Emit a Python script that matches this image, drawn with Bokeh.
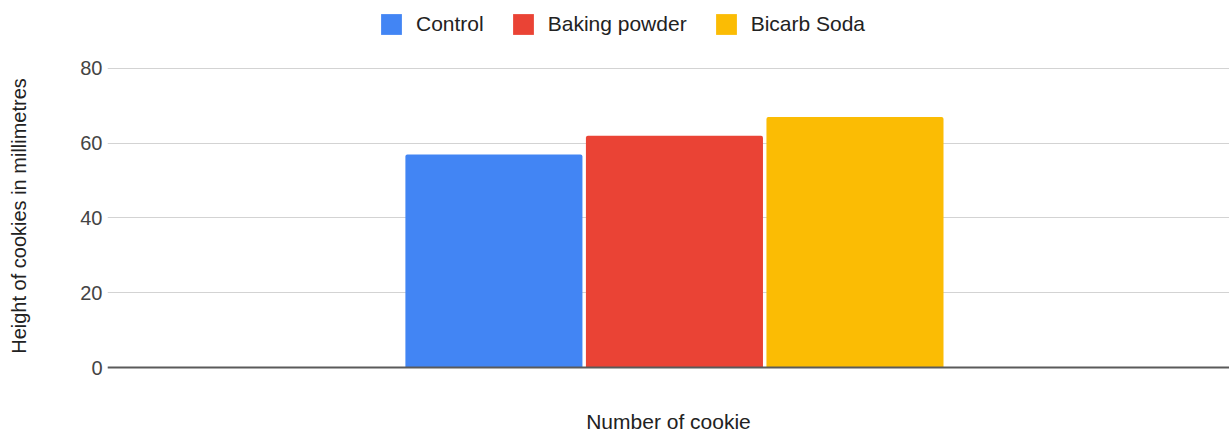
from bokeh.plotting import figure
from bokeh.models import FactorRange, Range1d, Legend, LegendItem, ColumnDataSource
from bokeh.transform import dodge
from bokeh.embed import file_html
from bokeh.resources import INLINE

# ---- data ----
categories = ["Cookie"]
series = ["Control", "Baking powder", "Bicarb Soda"]
control = [57]
baking_powder = [62]
bicarb_soda = [67]
colors = ["#4285F4", "#EA4335", "#FBBC04"]
y_ticks = [0, 20, 40, 60, 80]

source = ColumnDataSource(dict(cat=categories, control=control,
                               baking=baking_powder, bicarb=bicarb_soda))

FONT = "Liberation Sans"

# frame spans nearly the full height; headroom above 80 holds the legend,
# room below 0 holds the x-axis title (axis fixed at y = 0)
p = figure(width=1229, height=434, x_range=FactorRange(factors=categories, range_padding=0),
           y_range=Range1d(-17.12, 98.19), output_backend="svg", toolbar_location=None,
           min_border_left=107, min_border_right=0, min_border_top=0, min_border_bottom=3)
p.outline_line_color = None
p.background_fill_color = "white"
p.border_fill_color = "white"

spacing = 0.1609
shift = 0.0053
bw = 0.1578
fields = ["control", "baking", "bicarb"]
renderers = []
for i, (f, c) in enumerate(zip(fields, colors)):
    r = p.vbar(x=dodge("cat", shift + (i - 1) * spacing, range=p.x_range), top=f, width=bw,
               source=source, fill_color=c, line_color=None, border_radius=(2, 2, 0, 0))
    renderers.append(r)

# y axis
p.yaxis.ticker = y_ticks
p.yaxis.axis_line_color = None
p.yaxis.major_tick_line_color = None
p.yaxis.minor_tick_line_color = None
p.yaxis.major_tick_out = 0
p.yaxis.major_label_standoff = 5
p.yaxis.major_label_text_font = FONT
p.yaxis.major_label_text_font_size = "20px"
p.yaxis.major_label_text_color = "#444444"
p.yaxis.axis_label = "Height of cookies in millimetres"
p.yaxis.axis_label_text_font = FONT
p.yaxis.axis_label_text_font_size = "20px"
p.yaxis.axis_label_text_font_style = "normal"
p.yaxis.axis_label_text_color = "#222222"
p.yaxis.axis_label_standoff = 47

p.ygrid.grid_line_color = "#d3d3d3"
p.ygrid.grid_line_width = 1
p.ygrid.ticker = y_ticks
p.xgrid.grid_line_color = None

# x axis, drawn at y = 0
p.xaxis.fixed_location = 0
p.xaxis.axis_line_color = "#5a5a5a"
p.xaxis.axis_line_width = 2
p.xaxis.major_tick_line_color = None
p.xaxis.minor_tick_line_color = None
p.xaxis.major_label_text_font_size = "0px"
p.xaxis.major_label_standoff = 0
p.xaxis.axis_label = "Number of cookie"
p.xaxis.axis_label_text_font = FONT
p.xaxis.axis_label_text_font_size = "21px"
p.xaxis.axis_label_text_font_style = "normal"
p.xaxis.axis_label_text_color = "#222222"
p.xaxis.axis_label_standoff = 36

legend = Legend(items=[LegendItem(label=s, renderers=[r]) for s, r in zip(series, renderers)],
                orientation="horizontal", location=(271, 394),
                glyph_width=26, glyph_height=26, label_standoff=12, spacing=26,
                padding=0, margin=0, border_line_color=None, background_fill_alpha=0,
                label_text_font=FONT, label_text_font_size="21px", label_text_color="#222222")
p.add_layout(legend, "center")

open("out.html", "w").write(file_html(p, INLINE))
